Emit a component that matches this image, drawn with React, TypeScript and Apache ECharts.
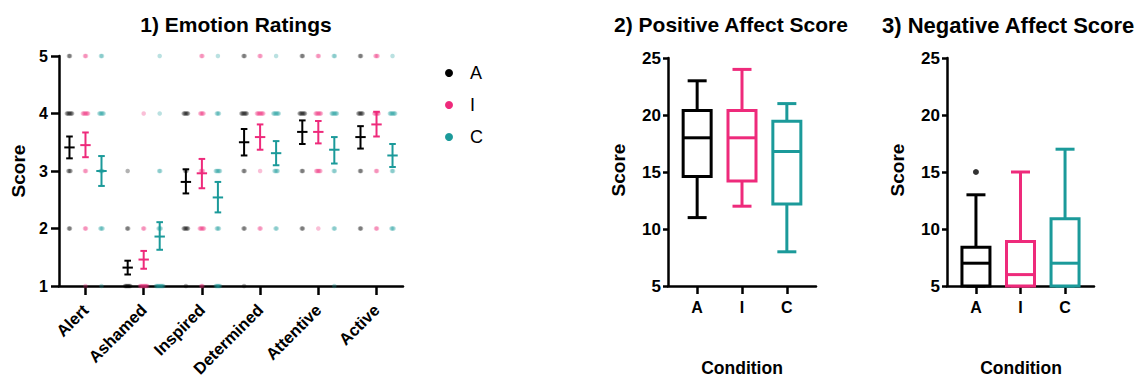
import React, { useEffect, useRef } from "react";
import * as echarts from "echarts";

const FONT = '"Liberation Sans", Arial, sans-serif';

const categories = ["Alert", "Ashamed", "Inspired", "Determined", "Attentive", "Active"];
const groups = ["A", "I", "C"];
const colors = ["#000000", "#EE2A7B", "#1B9A9A"];

// Emotion ratings: mean and mean ± SEM per category
const meanA = [3.41, 1.32, 2.81, 3.5, 3.68, 3.59];
const lowA = [3.22, 1.2, 2.61, 3.27, 3.47, 3.39];
const highA = [3.6, 1.44, 3.03, 3.73, 3.88, 3.78];
const meanI = [3.45, 1.46, 2.96, 3.59, 3.68, 3.81];
const lowI = [3.24, 1.3, 2.7, 3.37, 3.48, 3.6];
const highI = [3.67, 1.61, 3.21, 3.81, 3.87, 4.03];
const meanC = [3.0, 1.86, 2.54, 3.31, 3.37, 3.27];
const lowC = [2.74, 1.63, 2.28, 3.1, 3.13, 3.07];
const highC = [3.26, 2.11, 2.81, 3.52, 3.59, 3.47];

// Individual ratings: number of responses at score 1..5 per category
const countsA = [[0, 2, 3, 6, 2], [6, 2, 1, 0, 0], [1, 5, 2, 5, 0], [1, 2, 2, 6, 2], [0, 2, 2, 6, 2], [0, 2, 2, 5, 2]];
const countsI = [[1, 2, 2, 6, 2], [8, 2, 0, 1, 0], [2, 5, 3, 4, 2], [0, 2, 1, 7, 2], [0, 1, 5, 6, 2], [0, 2, 2, 5, 3]];
const countsC = [[1, 3, 3, 5, 2], [8, 3, 2, 1, 1], [5, 3, 5, 3, 1], [0, 2, 4, 6, 1], [1, 2, 2, 6, 2], [0, 3, 2, 6, 1]];

const scoreTicks1 = [1, 2, 3, 4, 5];

// Box plots: [min, Q1, median, Q3, max]
const boxCategories = ["A", "I", "C"];
const positiveBoxes = [
  [11, 14.6, 18, 20.4, 23],
  [12, 14.2, 18, 20.4, 24],
  [8, 12.2, 16.8, 19.45, 21],
];
const negativeBoxes = [
  [5, 5, 7, 8.4, 13],
  [5, 5, 6, 8.9, 15],
  [5, 5, 7, 10.9, 17],
];
const negativeOutliers = [[1, 15]];

const means = [meanA, meanI, meanC];
const lows = [lowA, lowI, lowC];
const highs = [highA, highI, highC];
const counts = [countsA, countsI, countsC];

const groupOffset = [-0.275, 0, 0.275];
const jitterStep = 0.018;

export default function App() {
  const ref = useRef<HTMLDivElement>(null);

  useEffect(() => {
    if (!ref.current) return;
    const chart = echarts.init(ref.current, null, { renderer: "svg" });

    const axisLine = { show: true, lineStyle: { color: "#000", width: 2.5 } };
    const bold = (size: number) => ({ fontSize: size, fontWeight: "bold", fontFamily: FONT, color: "#000" });

    const series: any[] = [];

    groups.forEach((g, gi) => {
      const pts: number[][] = [];
      categories.forEach((_, ci) => {
        counts[gi][ci].forEach((n, li) => {
          for (let k = 0; k < n; k++) {
            pts.push([ci + 1 + groupOffset[gi] + (k - (n - 1) / 2) * jitterStep, li + 1]);
          }
        });
      });
      series.push({
        name: g,
        type: "scatter",
        xAxisIndex: 0,
        yAxisIndex: 0,
        symbol: "circle",
        symbolSize: 4.5,
        clip: false,
        z: 2,
        itemStyle: { color: colors[gi], opacity: 0.3 },
        data: pts,
      });
    });

    groups.forEach((g, gi) => {
      const color = colors[gi];
      series.push({
        name: g + " mean ± SEM",
        type: "custom",
        xAxisIndex: 0,
        yAxisIndex: 0,
        z: 3,
        encode: { x: 0, y: 1 },
        data: categories.map((_, ci) => [ci + 1 + groupOffset[gi], means[gi][ci], lows[gi][ci], highs[gi][ci]]),
        renderItem: (params: any, api: any) => {
          const x = api.value(0);
          const pm = api.coord([x, api.value(1)]);
          const pl = api.coord([x, api.value(2)]);
          const ph = api.coord([x, api.value(3)]);
          const st = { stroke: color, lineWidth: 2, fill: "none" };
          const cap = 3.3;
          const mw = 5.2;
          return {
            type: "group",
            children: [
              { type: "line", shape: { x1: pm[0], y1: ph[1], x2: pm[0], y2: pl[1] }, style: st },
              { type: "line", shape: { x1: pm[0] - cap, y1: ph[1], x2: pm[0] + cap, y2: ph[1] }, style: st },
              { type: "line", shape: { x1: pm[0] - cap, y1: pl[1], x2: pm[0] + cap, y2: pl[1] }, style: st },
              { type: "line", shape: { x1: pm[0] - mw, y1: pm[1], x2: pm[0] + mw, y2: pm[1] }, style: st },
            ],
          };
        },
      });
    });

    const boxRender = (params: any, api: any) => {
      const x = api.value(0);
      const pMin = api.coord([x, api.value(1)]);
      const pQ1 = api.coord([x, api.value(2)]);
      const pMed = api.coord([x, api.value(3)]);
      const pQ3 = api.coord([x, api.value(4)]);
      const pMax = api.coord([x, api.value(5)]);
      const color = colors[params.dataIndex];
      const st = { stroke: color, lineWidth: 3, fill: "none" };
      const hw = 14;
      const cw = 9.5;
      const cx = pMed[0];
      return {
        type: "group",
        children: [
          { type: "line", shape: { x1: cx, y1: pMax[1], x2: cx, y2: pQ3[1] }, style: st },
          { type: "line", shape: { x1: cx, y1: pQ1[1], x2: cx, y2: pMin[1] }, style: st },
          { type: "line", shape: { x1: cx - cw, y1: pMax[1], x2: cx + cw, y2: pMax[1] }, style: st },
          { type: "line", shape: { x1: cx - cw, y1: pMin[1], x2: cx + cw, y2: pMin[1] }, style: st },
          { type: "rect", shape: { x: cx - hw, y: pQ3[1], width: hw * 2, height: pQ1[1] - pQ3[1] }, style: { ...st, fill: "#fff" } },
          { type: "line", shape: { x1: cx - hw, y1: pMed[1], x2: cx + hw, y2: pMed[1] }, style: st },
        ],
      };
    };

    series.push({
      name: "Positive Affect",
      type: "custom",
      xAxisIndex: 1,
      yAxisIndex: 1,
      encode: { x: 0, y: [1, 5] },
      data: positiveBoxes.map((b, i) => [i + 1, ...b]),
      renderItem: boxRender,
      z: 3,
    });
    series.push({
      name: "Negative Affect",
      type: "custom",
      xAxisIndex: 2,
      yAxisIndex: 2,
      encode: { x: 0, y: [1, 5] },
      data: negativeBoxes.map((b, i) => [i + 1, ...b]),
      renderItem: boxRender,
      z: 3,
    });
    series.push({
      name: "Negative outliers",
      type: "scatter",
      xAxisIndex: 2,
      yAxisIndex: 2,
      symbolSize: 6,
      itemStyle: { color: "#000" },
      data: negativeOutliers,
      z: 4,
    });

    const boxXAxis = (gridIndex: number) => ({
      type: "value",
      gridIndex,
      min: 0.35,
      max: 3.65,
      axisLine,
      splitLine: { show: false },
      axisTick: { show: true, length: 8, customValues: [1, 2, 3], lineStyle: { color: "#000", width: 2.5 } },
      axisLabel: {
        customValues: [1, 2, 3],
        margin: 13,
        formatter: (v: number) => boxCategories[Math.round(v) - 1] ?? "",
        ...bold(16),
      },
    });
    const boxYAxis = (gridIndex: number) => ({
      type: "value",
      gridIndex,
      min: 5,
      max: 25,
      interval: 5,
      axisLine,
      splitLine: { show: false },
      axisTick: { show: true, length: 5, lineStyle: { color: "#000", width: 2.5 } },
      axisLabel: { margin: 7, ...bold(17) },
    });

    const nameStyle = (text: string, size: number) => ({
      text,
      textAlign: "center",
      textVerticalAlign: "middle",
      fontSize: size,
      fontWeight: "bold",
      fontFamily: FONT,
      fill: "#000",
    });

    chart.setOption({
      animation: false,
      backgroundColor: "#fff",
      title: [
        { text: "1) Emotion Ratings", left: 231, top: 9, textAlign: "center", textStyle: bold(21) },
        { text: "2) Positive Affect Score", left: 726, top: 9, textAlign: "center", textStyle: bold(21) },
        { text: "3) Negative Affect Score", left: 877, top: 9, textAlign: "left", textStyle: bold(22) },
      ],
      legend: {
        orient: "vertical",
        left: 440,
        top: 59,
        itemWidth: 8,
        itemHeight: 8,
        itemGap: 14,
        selectedMode: false,
        data: groups.map((g, i) => ({ name: g, icon: "circle", itemStyle: { color: colors[i], opacity: 1 } })),
        textStyle: { fontSize: 18, fontFamily: FONT, color: "#000", padding: [0, 0, 0, 12] },
      },
      grid: [
        { left: 59, top: 56, width: 344, height: 230 },
        { left: 668, top: 58, width: 148, height: 228 },
        { left: 947, top: 58, width: 147, height: 228 },
      ],
      xAxis: [
        {
          type: "value",
          gridIndex: 0,
          min: 0.545,
          max: 6.455,
          axisLine,
          splitLine: { show: false },
          axisTick: { show: true, length: 9, customValues: [1, 2, 3, 4, 5, 6], lineStyle: { color: "#000", width: 2.5 } },
          axisLabel: {
            customValues: [1, 2, 3, 4, 5, 6],
            rotate: 45,
            margin: 21,
            formatter: (v: number) => categories[Math.round(v) - 1] ?? "",
            ...bold(16.5),
          },
        },
        boxXAxis(1),
        boxXAxis(2),
      ],
      yAxis: [
        {
          type: "value",
          gridIndex: 0,
          min: scoreTicks1[0],
          max: scoreTicks1[scoreTicks1.length - 1],
          interval: 1,
          axisLine,
          splitLine: { show: false },
          axisTick: { show: true, length: 8, lineStyle: { color: "#000", width: 2.5 } },
          axisLabel: { margin: 11, ...bold(16) },
        },
        boxYAxis(1),
        boxYAxis(2),
      ],
      graphic: [
        { type: "text", x: 18, y: 171, rotation: Math.PI / 2, style: nameStyle("Score", 19) },
        { type: "text", x: 618, y: 170, rotation: Math.PI / 2, style: nameStyle("Score", 19) },
        { type: "text", x: 897, y: 170, rotation: Math.PI / 2, style: nameStyle("Score", 19) },
        { type: "text", x: 742, y: 368, style: nameStyle("Condition", 17.5) },
        { type: "text", x: 1021, y: 368, style: nameStyle("Condition", 17.5) },
      ],
      series,
    });

    return () => chart.dispose();
  }, []);

  return <div ref={ref} style={{ width: 1139, height: 380, position: "absolute", left: 0, top: 0 }} />;
}
